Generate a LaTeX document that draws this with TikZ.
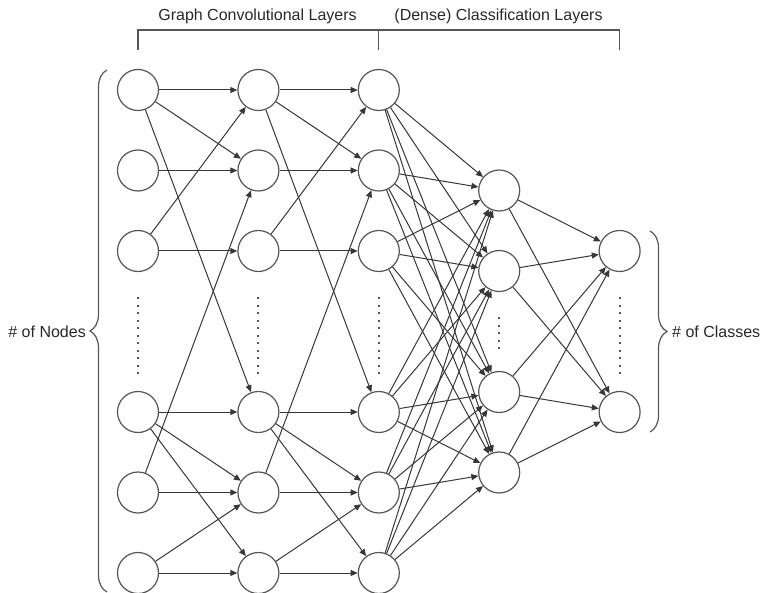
\documentclass[tikz,border=0pt]{standalone}
\usepackage{fontspec}
\setmainfont{Liberation Sans}
\definecolor{netgray}{RGB}{85,85,85}
\definecolor{edgegray}{RGB}{55,55,55}
\definecolor{textgray}{RGB}{40,40,40}
\usetikzlibrary{arrows.meta,decorations.pathreplacing}

\begin{document}
\begin{tikzpicture}[x=1pt,y=-1pt,
      neuron/.style={circle,draw=netgray,line width=1.2pt,minimum size=41pt,
                     inner sep=0pt,fill=white},
      link/.style={draw=edgegray,line width=1pt,-{Triangle[length=7pt,width=6pt]}},
      vdots/.style={draw=netgray,line width=2pt,dash pattern=on 2pt off 5.5pt},
      brace/.style={draw=netgray,line width=1.2pt,decorate,
                    decoration={brace,amplitude=17pt}},
      lbl/.style={font=\fontsize{16}{19}\selectfont,text=textgray,inner sep=0pt}]

      \useasboundingbox (0,0) rectangle (767,593);

      % Titles
      \node[lbl,anchor=base] (gcntitle)   at (257.5,20.7) {Graph Convolutional Layers};
      \node[lbl,anchor=base] (densetitle) at (498.5,20.7) {(Dense) Classification Layers};
      \draw[netgray,line width=1.2pt] (138,50) -- (138,30) -- (619.6,30) -- (619.6,50);
      \draw[netgray,line width=1.2pt] (378.8,30) -- (378.8,50);

      % Graph convolutional layers
      \foreach \c/\x in {1/138,2/258.4,3/378.8}{
        \foreach \r/\y in {1/90,2/170.5,3/251,4/412,5/492.5,6/573}{
          \node[neuron] (g\c-\r) at (\x,\y) {};
        }
        \draw[vdots] (\x,297) -- (\x,374);
      }

      % Dense layers
      \foreach \r/\y in {1/190.5,2/271,3/392,4/472.5}{
        \node[neuron] (d-\r) at (499.2,\y) {};
      }
      \draw[vdots] (499.2,317) -- (499.2,354);
      \node[neuron] (o-1) at (619.6,251) {};
      \node[neuron] (o-2) at (619.6,412) {};
      \draw[vdots] (619.6,297) -- (619.6,374);

      % Connections
      \foreach \a/\b in {1/2,2/3}{
        \foreach \s/\t in {1/1,1/2,1/4,2/2,3/1,3/3,4/4,4/5,4/6,5/2,5/5,6/5,6/6}{
          \draw[link] (g\a-\s) -- (g\b-\t);
        }
      }
      \foreach \s in {1,...,6}{
        \foreach \t in {1,...,4}{
          \draw[link] (g3-\s) -- (d-\t);
        }
      }
      \foreach \s in {1,...,4}{
        \foreach \t in {1,2}{
          \draw[link] (d-\s) -- (o-\t);
        }
      }

      % Braces
      \draw[brace] (107,592) -- (107,70);
      \node[lbl,anchor=base east] (nodeslabel) at (86,337) {\# of Nodes};
      \draw[brace] (650,231) -- (650,432);
      \node[lbl,anchor=base west] (classlabel) at (672,337) {\# of Classes};
    \end{tikzpicture}
\end{document}
